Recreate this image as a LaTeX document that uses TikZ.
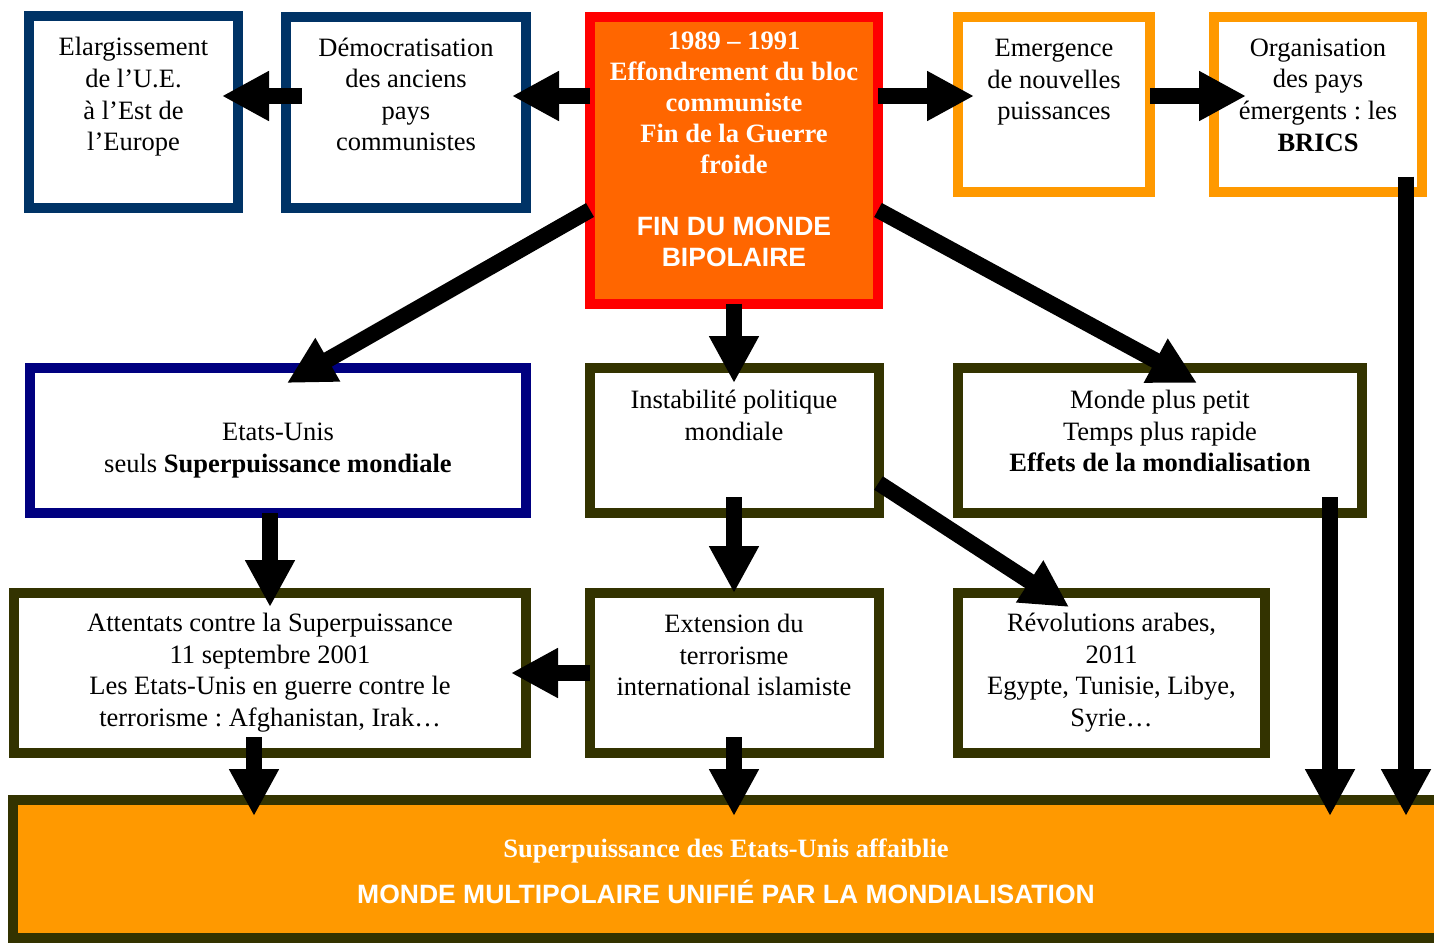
\documentclass[tikz,border=0pt]{standalone}
\usepackage{fontspec}
\setmainfont{Liberation Serif}
\setsansfont{Liberation Sans}
\usetikzlibrary{arrows.meta,calc}
\frenchspacing
\definecolor{dblue}{HTML}{003366}
\definecolor{navyb}{HTML}{000080}
\definecolor{olive}{HTML}{333300}
\definecolor{orng}{HTML}{FF9900}
\definecolor{redorng}{HTML}{FF6600}
\definecolor{redb}{HTML}{FF0000}
\tikzset{
  box/.style={draw=#1, line width=5pt, rectangle, inner sep=0pt, outer sep=0pt, fill=white},
  txt/.style={align=center, inner sep=0pt, font=\fontsize{13.25}{15.8}\selectfont},
  arr/.style={line width=8pt, line cap=butt, -{Triangle[length=23.5pt,width=23.5pt]}},
}
\begin{document}
\begin{tikzpicture}[x=0.5pt,y=-0.5pt]
\useasboundingbox (0,0) rectangle (1434,943);
% boxes
\node[box=dblue, minimum width=104.5pt, minimum height=96pt] (elarg) at (133.5,112) {};
\node[box=dblue, minimum width=120pt, minimum height=95.5pt] (dem) at (406,112) {};
\node[box=redb, fill=redorng, minimum width=144pt, minimum height=143.5pt] (c) at (734,160) {};
\node[box=orng, minimum width=96pt, minimum height=87.5pt] (emer) at (1054,104) {};
\node[box=orng, minimum width=104pt, minimum height=87.5pt] (org) at (1318,104) {};
\node[box=navyb, minimum width=248pt, minimum height=72.5pt] (etats) at (278,440.5) {};
\node[box=olive, minimum width=144.5pt, minimum height=72.5pt] (instab) at (734,440.5) {};
\node[box=olive, minimum width=202pt, minimum height=72.5pt] (monde) at (1160,440.5) {};
\node[box=olive, minimum width=256pt, minimum height=80pt] (att) at (270,673) {};
\node[box=olive, minimum width=144.5pt, minimum height=80pt] (ext) at (734,673) {};
\node[box=olive, minimum width=153.5pt, minimum height=80pt] (rev) at (1111.5,673) {};
\node[box=olive, fill=orng, minimum width=716pt, minimum height=69pt] (bot) at (729,869) {};
% texts
\node[txt] (t1) at (elarg.center |- 0,97) {Elargissement\\de l’U.E.\\à l’Est de\\l’Europe};
\node[txt] (t2) at (dem.center |- 0,94.5) {Démocratisation\\des anciens\\pays\\communistes};
\node[txt, text=white, font=\fontsize{13.25}{15.5}\selectfont\bfseries] (t3) at (c.center |- 0,149) {1989 – 1991\\Effondrement du bloc\\communiste\\Fin de la Guerre\\froide\\[15.5pt]\sffamily FIN DU MONDE\\\sffamily BIPOLAIRE};
\node[txt] (t4) at (emer.center |- 0,82.5) {Emergence\\de nouvelles\\puissances};
\node[txt] (t5) at (org.center |- 0,95) {Organisation\\des pays\\émergents : les\\\textbf{BRICS}};
\node[txt] (t6) at (etats.center |- 0,450.5) {Etats-Unis\\seuls \textbf{Superpuissance mondiale}};
\node[txt] (t7) at (instab.center |- 0,415.5) {Instabilité politique\\mondiale};
\node[txt] (t8) at (monde.center |- 0,431) {Monde plus petit\\Temps plus rapide\\\textbf{Effets de la mondialisation}};
\node[txt] (t9) at (att.center |- 0,672.5) {Attentats contre la Superpuissance\\11 septembre 2001\\Les Etats-Unis en guerre contre le\\terrorisme : Afghanistan, Irak…};
\node[txt] (t10) at (ext.center |- 0,655) {Extension du\\terrorisme\\international islamiste};
\node[txt] (t11) at (rev.center |- 0,672.5) {Révolutions arabes,\\2011\\Egypte, Tunisie, Libye,\\Syrie…};
\node[txt, text=white, font=\fontsize{13.25}{15.5}\selectfont\bfseries] (t12) at (726,871) {Superpuissance des Etats-Unis affaiblie\\[7.5pt]\sffamily MONDE MULTIPOLAIRE UNIFIÉ PAR LA MONDIALISATION};
% arrows
\draw[arr] (c.west |- 0,96) -- ([xshift=-7pt]dem.east |- 0,96);
\draw[arr] ([xshift=8pt]dem.west |- 0,96) -- ([xshift=-8pt]elarg.east |- 0,96);
\draw[arr] (c.east |- 0,96) -- ([xshift=8pt]emer.west |- 0,96);
\draw[arr] (emer.east |- 0,96) -- ([xshift=16pt]org.west |- 0,96);
\draw[arr] ([yshift=7.5pt]org.south -| 1406,0) -- ([yshift=-8pt]bot.north -| 1406,0);
\draw[arr] ([yshift=8pt]monde.south -| 1330,0) -- ([yshift=-8pt]bot.north -| 1330,0);
\draw[arr] (c.south) -- ([yshift=-7.5pt]instab.north);
\draw[arr] (c.west |- 0,210) -- ([yshift=-7.5pt]etats.north -| 287,0);
\draw[arr] (c.east |- 0,210) -- ([yshift=-7.5pt]monde.north -| 1197,0);
\draw[arr] (instab.east |- 0,483) -- ([yshift=-7pt]rev.north -| 1069,0);
\draw[arr] (etats.south -| 270,0) -- ([yshift=-7pt]att.north -| 270,0);
\draw[arr] ([yshift=8pt]instab.south) -- (ext.north);
\draw[arr] (ext.west |- 0,673) -- ([xshift=-7.5pt]att.east |- 0,673);
\draw[arr] ([yshift=8pt]att.south -| 254,0) -- ([yshift=-8pt]bot.north -| 254,0);
\draw[arr] ([yshift=8pt]ext.south) -- ([yshift=-8pt]bot.north -| 734,0);
\end{tikzpicture}
\end{document}
